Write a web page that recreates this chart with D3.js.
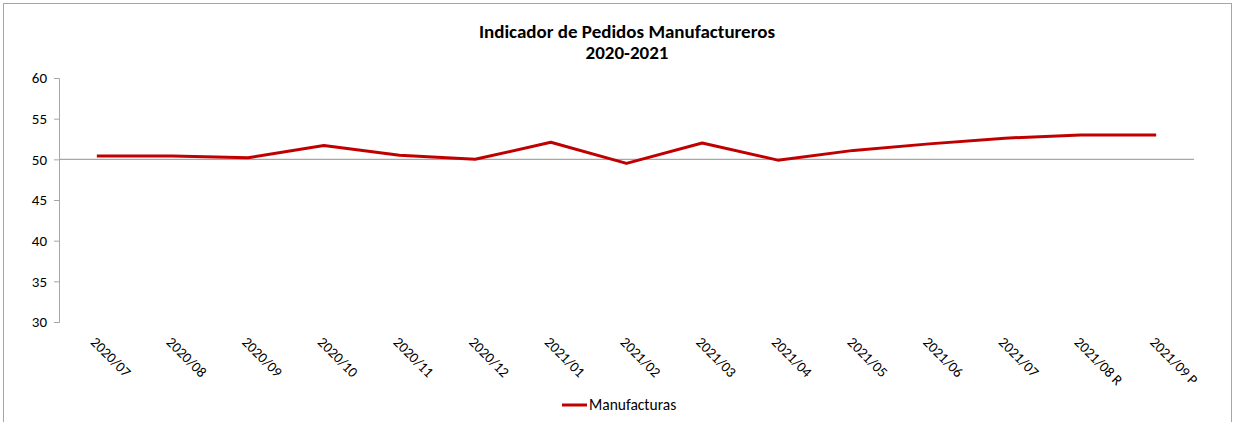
<!DOCTYPE html>
<html>
<head>
<meta charset="utf-8">
<script src="https://cdn.jsdelivr.net/npm/d3@7"></script>
<style>
  body { margin: 0; background: #fff; }
  svg text { font-family: Carlito, Lato, "Liberation Sans", sans-serif; fill: #000; }
</style>
</head>
<body>
<div id="chart"></div>
<script>
// data
var months = ["2020/07","2020/08","2020/09","2020/10","2020/11","2020/12","2021/01","2021/02",
              "2021/03","2021/04","2021/05","2021/06","2021/07","2021/08 R","2021/09 P"];
var manufacturas = [50.4, 50.4, 50.2, 51.7, 50.5, 50.0, 52.1, 49.5, 52.0, 49.9, 51.1, 51.9, 52.6, 53.0, 53.0];
var yTicks = [30, 35, 40, 45, 50, 55, 60];
var seriesName = "Manufacturas";

var W = 1234, H = 422;
var margin = {top: 78, right: 40, bottom: 100, left: 59},
    width = 1194 - margin.left,
    height = 322 - margin.top;

var svg = d3.select("#chart").append("svg")
    .attr("width", W)
    .attr("height", H);

// outer frame
svg.append("rect")
    .attr("x", 3.5).attr("y", 3.5)
    .attr("width", 1228).attr("height", 430)
    .attr("fill", "none")
    .attr("stroke", "#a6a6a6")
    .attr("stroke-width", 1);

var g = svg.append("g")
    .attr("transform", "translate(" + margin.left + "," + margin.top + ")");

var xScale = d3.scaleBand()
    .domain(months)
    .range([0, width]);

var yScale = d3.scaleLinear()
    .domain([30, 60])
    .range([height, 0]);

// title
svg.append("text")
    .attr("x", 627).attr("y", 38)
    .attr("text-anchor", "middle")
    .attr("font-weight", "bold")
    .attr("font-size", "19px")
    .text("Indicador de Pedidos Manufactureros");
svg.append("text")
    .attr("x", 627).attr("y", 59)
    .attr("text-anchor", "middle")
    .attr("font-weight", "bold")
    .attr("font-size", "19px")
    .text("2020-2021");

// y axis
var yAxis = g.append("g")
    .attr("class", "y axis")
    .call(d3.axisLeft(yScale).tickValues(yTicks).tickSize(5).tickPadding(7));
yAxis.select(".domain").attr("stroke", "#a6a6a6");
yAxis.selectAll(".tick line").attr("stroke", "#a6a6a6");
yAxis.selectAll("text").attr("font-size", "15px").attr("fill", "#000");

// horizontal category axis crossing at 50
g.append("line")
    .attr("x1", 0).attr("x2", width)
    .attr("y1", yScale(50)).attr("y2", yScale(50))
    .attr("stroke", "#a6a6a6")
    .attr("stroke-width", 1.3);

// category labels, rotated, at the bottom
var xAxis = g.append("g")
    .attr("class", "x axis")
    .attr("transform", "translate(0," + height + ")")
    .call(d3.axisBottom(xScale).tickSize(0).tickPadding(0));
xAxis.select(".domain").remove();
xAxis.selectAll("text")
    .attr("font-size", "14.5px")
    .attr("fill", "#000")
    .attr("text-anchor", "start")
    .attr("dy", "0")
    .attr("transform", "translate(-7,21) rotate(45)");

// the line
var line = d3.line()
    .x(function(d, i) { return xScale(months[i]) + xScale.bandwidth() / 2; })
    .y(function(d) { return yScale(d); });

g.append("path")
    .datum(manufacturas)
    .attr("d", line)
    .attr("fill", "none")
    .attr("stroke", "#c00000")
    .attr("stroke-width", 3)
    .attr("stroke-linejoin", "round");

// legend
var legend = svg.append("g").attr("transform", "translate(562,405)");
legend.append("line")
    .attr("x1", 0).attr("x2", 25)
    .attr("stroke", "#c00000")
    .attr("stroke-width", 3);
legend.append("text")
    .attr("x", 27).attr("y", 5)
    .attr("font-size", "15.5px")
    .text(seriesName);
</script>
</body>
</html>
